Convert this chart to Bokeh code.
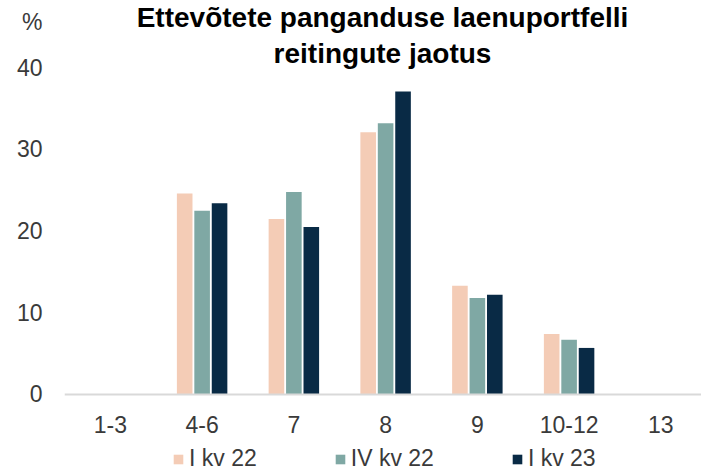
import numpy as np
from bokeh.plotting import figure
from bokeh.models import Range1d, FixedTicker, Label, Legend, LegendItem, ColumnDataSource
from bokeh.embed import file_html
from bokeh.resources import INLINE

categories = ["1-3", "4-6", "7", "8", "9", "10-12", "13"]
i_kv_22 = [0, 24.6, 21.5, 32.1, 13.3, 7.4, 0]
iv_kv_22 = [0, 22.5, 24.8, 33.2, 11.8, 6.7, 0]
i_kv_23 = [0, 23.4, 20.5, 37.1, 12.2, 5.7, 0]
y_ticks = [0, 10, 20, 30, 40]
series_names = ["I kv 22", "IV kv 22", "I kv 23"]
colors = ["#F4CCB6", "#7FA8A4", "#092A45"]
title_lines = ["Ettevõtete panganduse laenuportfelli", "reitingute jaotus"]
unit_label = "%"
unit_label_pos = 45.6

FONT = "Liberation Sans"
LABEL_COLOR = "#3a3a3a"

xpos = np.arange(len(categories), dtype=float)

p = figure(width=701, height=475, output_backend="svg", toolbar_location=None,
           x_range=Range1d(-0.5, 6.443), y_range=Range1d(-9.92, 48.24),
           min_border_left=64, min_border_right=0, min_border_top=0,
           min_border_bottom=0)
p.outline_line_color = None
p.grid.visible = False
p.background_fill_color = "white"

renderers = []
offsets = [-0.19, 0.0, 0.19]
for vals, off, col in zip([i_kv_22, iv_kv_22, i_kv_23], offsets, colors):
    src = ColumnDataSource(dict(x=xpos + off, top=vals))
    r = p.vbar(x="x", top="top", bottom=0, width=0.17, source=src,
               fill_color=col, line_color=None)
    renderers.append(r)

# y axis (the unit sign sits above the top tick, as in the reference)
p.yaxis.ticker = FixedTicker(ticks=y_ticks + [unit_label_pos])
p.yaxis.major_label_overrides = {unit_label_pos: unit_label}
p.yaxis.axis_line_color = None
p.yaxis.major_tick_line_color = None
p.yaxis.minor_tick_line_color = None
p.yaxis.major_tick_out = 0
p.yaxis.major_tick_in = 0
p.yaxis.major_label_standoff = 22
p.yaxis.major_label_text_font_size = "23px"
p.yaxis.major_label_text_font = FONT
p.yaxis.major_label_text_color = LABEL_COLOR

# x axis, drawn at the zero line
p.xaxis.fixed_location = 0
p.xaxis.ticker = FixedTicker(ticks=list(xpos))
p.xaxis.major_label_overrides = {int(i): c for i, c in zip(xpos, categories)}
p.xaxis.axis_line_color = "#D9D9D9"
p.xaxis.axis_line_width = 2
p.xaxis.major_tick_line_color = None
p.xaxis.minor_tick_line_color = None
p.xaxis.major_tick_out = 0
p.xaxis.major_tick_in = 0
p.xaxis.major_label_standoff = 22
p.xaxis.major_label_text_font_size = "23px"
p.xaxis.major_label_text_font = FONT
p.xaxis.major_label_text_color = LABEL_COLOR

# title lines
for txt, yb in zip(title_lines, [46.19, 41.81]):
    p.add_layout(Label(x=2.966, y=yb, text=txt, text_align="center",
                       text_baseline="alphabetic", text_font=FONT,
                       text_font_style="bold", text_font_size="28px",
                       text_color="#000000"))

legend = Legend(items=[LegendItem(label=n, renderers=[r]) for n, r in zip(series_names, renderers)],
                orientation="horizontal", location=(108, 3),
                glyph_width=12, glyph_height=12, label_standoff=5, spacing=77,
                padding=2, margin=0, border_line_color=None,
                background_fill_alpha=0,
                label_text_font=FONT, label_text_font_size="23px",
                label_text_color=LABEL_COLOR)
p.add_layout(legend)

open("out.html", "w").write(file_html(p, INLINE))
